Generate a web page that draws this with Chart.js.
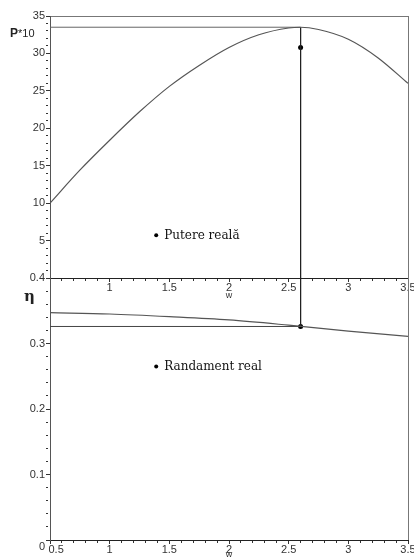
<!DOCTYPE html>
<html>
<head>
<meta charset="utf-8">
<script src="https://cdn.jsdelivr.net/npm/chart.js@4.4.0/dist/chart.umd.min.js"></script>
<style>
  body { margin: 0; background: #fff; }
  #wrap { position: relative; width: 414px; height: 559px; }
  #wrap canvas { position: absolute; left: 0; top: 0; }
  .lbl { position: absolute; font-family: "Liberation Sans", Arial, sans-serif; color: #222; line-height: 1; }
</style>
</head>
<body>
<div id="wrap">
  <canvas id="putere" width="414" height="559"></canvas>
  <canvas id="randament" width="414" height="559"></canvas>
  <div class="lbl" style="left:10px;top:24px;"><b style="font-size:12px">P</b><span style="font-size:11px">*10</span></div>
  <div class="lbl" style="left:24px;top:289px;font-family:'DejaVu Serif',serif;font-weight:bold;font-size:15px">η</div>
</div>
<script>
// values
const wPutere = [0.5, 0.75, 1.0, 1.25, 1.5, 1.75, 2.0, 2.25, 2.5, 2.6, 2.75, 3.0, 3.25, 3.5];
const putere = [10.0, 14.4, 18.4, 22.2, 25.6, 28.4, 30.8, 32.5, 33.4, 33.5, 33.2, 31.9, 29.4, 26.0];
const wRand = [0.5, 1.0, 1.5, 2.0, 2.5, 3.0, 3.5];
const randament = [0.347, 0.345, 0.341, 0.336, 0.328, 0.319, 0.311];

const wOpt = 2.6;
const putereMax = 33.5;
const putereReala = 30.8;
const randamentOpt = 0.326;
const notaW = 1.39;
const notaP = 5.7;
const notaEta = 0.265;

const xMajor = [0.5, 1, 1.5, 2, 2.5, 3, 3.5];
const pMajor = [5, 10, 15, 20, 25, 30, 35];
const etaMajor = [0, 0.1, 0.2, 0.3, 0.4];

const near = (v, list) => list.some(t => Math.abs(t - v) < 1e-6);
const tickFont = { family: '"Liberation Sans", Arial, sans-serif', size: 11 };
const minorDash = [2, 10];

// text next to the "legend" dots
const notePlugin = {
  id: 'note',
  afterDatasetsDraw(chart) {
    const ctx = chart.ctx;
    chart.data.datasets.forEach((ds, i) => {
      if (!ds.note) return;
      const pt = chart.getDatasetMeta(i).data[0];
      ctx.save();
      ctx.font = '12px "DejaVu Serif", serif';
      ctx.fillStyle = '#111';
      ctx.textBaseline = 'alphabetic';
      ctx.fillText(ds.note, pt.x + 8, pt.y + 4);
      ctx.restore();
    });
  }
};

function xScale(height, firstLabel) {
  return {
    type: 'linear',
    min: 0.5,
    max: 3.5,
    afterFit: s => { s.height = height; s.paddingLeft = 0; s.paddingRight = 0; },
    ticks: {
      stepSize: 0.1,
      autoSkip: false,
      maxRotation: 0,
      padding: -1,
      color: '#333',
      font: tickFont,
      callback: v => {
        if (!near(v, xMajor)) return '';
        if (Math.abs(v - 0.5) < 1e-6) return firstLabel;
        return String(Math.round(v * 10) / 10);
      }
    },
    grid: {
      color: c => c.tick && Math.abs(c.tick.value - 3.5) < 1e-6 ? '#777' : 'transparent',
      tickColor: '#333',
      tickLength: 4,
      tickBorderDash: c => c.tick && near(c.tick.value, xMajor) ? [] : minorDash
    },
    border: { color: '#222' },
    title: { display: true, text: 'w', color: '#333', font: { family: tickFont.family, size: 9 }, padding: { top: 0, bottom: -1 } }
  };
}

const base = {
  responsive: false,
  animation: false,
  devicePixelRatio: 1,
  plugins: { legend: { display: false }, tooltip: { enabled: false } },
  elements: { point: { radius: 0 }, line: { borderWidth: 1 } }
};

new Chart(document.getElementById('putere'), {
  type: 'line',
  data: {
    datasets: [
      { data: wPutere.map((w, i) => ({ x: w, y: putere[i] })), borderColor: '#555', borderWidth: 1.2, cubicInterpolationMode: 'monotone' },
      { data: [{ x: 0.5, y: putereMax }, { x: wOpt, y: putereMax }], borderColor: '#666' },
      { data: [{ x: wOpt, y: putereMax }, { x: wOpt, y: 0 }], borderColor: '#222' },
      { data: [{ x: wOpt, y: putereReala }], showLine: false, pointRadius: 2.5, pointBackgroundColor: '#000', pointBorderWidth: 0 },
      { data: [{ x: notaW, y: notaP }], showLine: false, pointRadius: 2, pointBackgroundColor: '#000', pointBorderWidth: 0, note: 'Putere reală' }
    ]
  },
  options: {
    ...base,
    layout: { padding: { left: 0, top: 16, right: 6, bottom: 259 } },
    scales: {
      x: xScale(22, ''),
      y: {
        min: 0,
        max: 35,
        afterFit: s => { s.width = 50; },
        ticks: {
          stepSize: 1,
          autoSkip: false,
          padding: 1,
          color: '#333',
          font: tickFont,
          callback: v => near(v, pMajor) ? String(Math.round(v)) : ''
        },
        grid: {
          color: c => c.tick && Math.abs(c.tick.value - 35) < 1e-6 ? '#777' : 'transparent',
          tickColor: '#333',
          tickLength: 4,
          tickBorderDash: c => c.tick && near(c.tick.value, pMajor) ? [] : minorDash
        },
        border: { color: '#555' }
      }
    }
  },
  plugins: [notePlugin]
});

new Chart(document.getElementById('randament'), {
  type: 'line',
  data: {
    datasets: [
      { data: wRand.map((w, i) => ({ x: w, y: randament[i] })), borderColor: '#555', borderWidth: 1.2, cubicInterpolationMode: 'monotone' },
      { data: [{ x: 0.5, y: randamentOpt }, { x: wOpt, y: randamentOpt }], borderColor: '#444' },
      { data: [{ x: wOpt, y: 0.4 }, { x: wOpt, y: randamentOpt }], borderColor: '#222' },
      { data: [{ x: wOpt, y: randamentOpt }], showLine: false, pointRadius: 2.5, pointBackgroundColor: '#000', pointBorderWidth: 0 },
      { data: [{ x: notaW, y: notaEta }], showLine: false, pointRadius: 2, pointBackgroundColor: '#000', pointBorderWidth: 0, note: 'Randament real' }
    ]
  },
  options: {
    ...base,
    layout: { padding: { left: 0, top: 278, right: 6, bottom: 0 } },
    scales: {
      x: xScale(19, '    0.5'),
      y: {
        min: 0,
        max: 0.4,
        afterFit: s => { s.width = 50; s.paddingTop = 0; s.paddingBottom = 0; },
        ticks: {
          stepSize: 0.02,
          autoSkip: false,
          padding: 1,
          color: '#333',
          font: tickFont,
          callback: v => {
            if (!near(v, etaMajor)) return '';
            if (Math.abs(v) < 1e-6) return ['', '0'];
            return v.toFixed(1);
          }
        },
        grid: {
          color: 'transparent',
          tickColor: '#333',
          tickLength: 4,
          tickBorderDash: c => c.tick && near(c.tick.value, etaMajor) ? [] : minorDash
        },
        border: { color: '#555' }
      }
    }
  },
  plugins: [notePlugin]
});
</script>
</body>
</html>
